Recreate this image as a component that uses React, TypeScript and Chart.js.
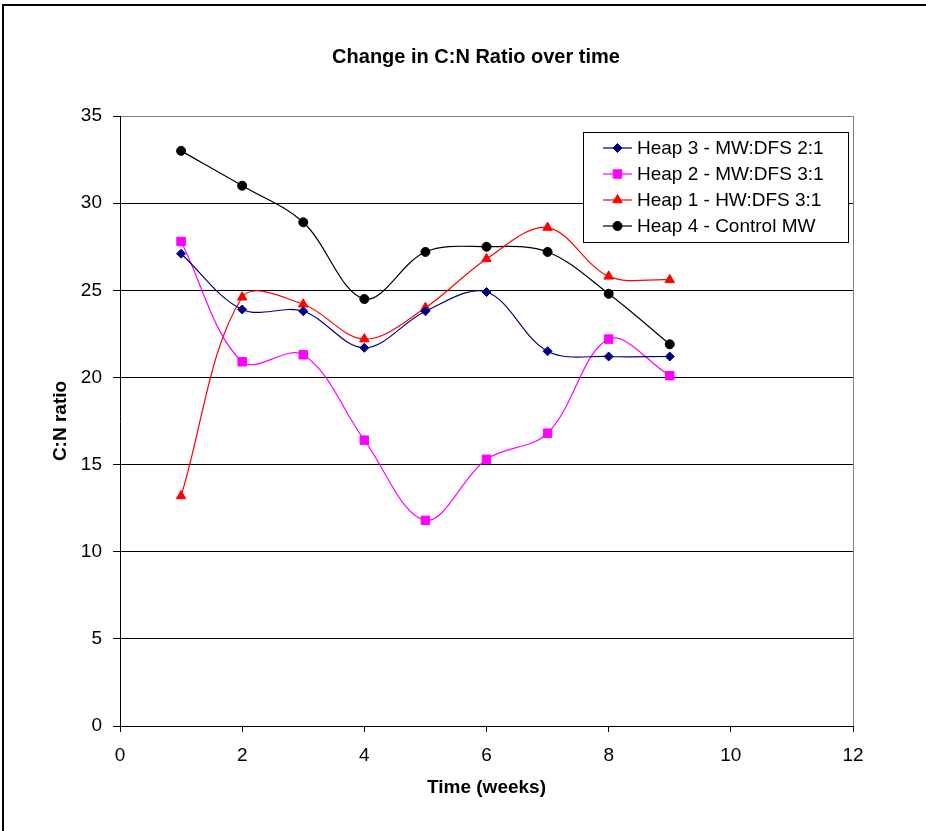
import React, { useEffect, useRef } from 'react';
import { Chart, registerables } from 'chart.js';

Chart.register(...registerables);

// ---- Data ----
const weeks = [1, 2, 3, 4, 5, 6, 7, 8, 9];
const heap3 = [27.1, 23.9, 23.8, 21.7, 23.8, 24.9, 21.5, 21.2, 21.2];
const heap2 = [27.8, 20.9, 21.3, 16.4, 11.8, 15.3, 16.8, 22.2, 20.1];
const heap1 = [13.2, 24.6, 24.2, 22.2, 24.0, 26.8, 28.6, 25.8, 25.6];
const heap4 = [33.0, 31.0, 28.9, 24.5, 27.2, 27.5, 27.2, 24.8, 21.9];
const seriesLabels = ['Heap 3 - MW:DFS 2:1', 'Heap 2 - MW:DFS 3:1', 'Heap 1 - HW:DFS 3:1', 'Heap 4 - Control MW'];
const seriesColors = ['#000080', '#FF00FF', '#FF0000', '#000000'];
const seriesStyles = ['rectRot', 'rect', 'triangle', 'circle'];
const seriesRadius = [4.5, 6, 5.5, 4.5];
const titleText = 'Change in C:N Ratio over time';
const xTitle = 'Time (weeks)';
const yTitle = 'C:N ratio';
const xMin = 0, xMax = 12, xStep = 2;
const yMin = 0, yMax = 35, yStep = 5;

const FONT = "'Liberation Sans', Arial, sans-serif";

function drawMarker(ctx: CanvasRenderingContext2D, style: string, x: number, y: number, r: number, color: string) {
  ctx.save();
  ctx.fillStyle = color;
  ctx.strokeStyle = color;
  ctx.lineWidth = 1;
  ctx.beginPath();
  if (style === 'rectRot') {
    ctx.moveTo(x - r, y); ctx.lineTo(x, y - r); ctx.lineTo(x + r, y); ctx.lineTo(x, y + r); ctx.closePath();
  } else if (style === 'rect') {
    const s = Math.SQRT1_2 * r;
    ctx.rect(x - s, y - s, 2 * s, 2 * s);
  } else if (style === 'triangle') {
    const rad = 0;
    ctx.moveTo(x + Math.sin(rad) * r, y - Math.cos(rad) * r);
    ctx.lineTo(x + Math.sin(rad + 2 * Math.PI / 3) * r, y - Math.cos(rad + 2 * Math.PI / 3) * r);
    ctx.lineTo(x + Math.sin(rad - 2 * Math.PI / 3) * r, y - Math.cos(rad - 2 * Math.PI / 3) * r);
    ctx.closePath();
  } else {
    ctx.arc(x, y, r, 0, Math.PI * 2);
  }
  ctx.fill();
  ctx.stroke();
  ctx.restore();
}

const decorPlugin = {
  id: 'decor',
  afterDraw(chart: any) {
    const ctx: CanvasRenderingContext2D = chart.ctx;
    const a = chart.chartArea;
    ctx.save();
    // plot area right border (gray)
    ctx.strokeStyle = '#808080';
    ctx.lineWidth = 1;
    ctx.beginPath();
    ctx.moveTo(Math.round(a.right) + 0.5, a.top);
    ctx.lineTo(Math.round(a.right) + 0.5, a.bottom);
    ctx.stroke();

    // outer frame
    ctx.strokeStyle = '#000';
    ctx.lineWidth = 2;
    ctx.strokeRect(3, 5, 2000, 2000);

    // title
    ctx.fillStyle = '#000';
    ctx.font = `bold 20px ${FONT}`;
    ctx.textAlign = 'center';
    ctx.textBaseline = 'middle';
    ctx.fillText(titleText, 476, 57);

    // legend
    const lx = 583.5, ly = 132.5, lw = 265, lh = 110;
    ctx.fillStyle = '#fff';
    ctx.fillRect(lx, ly, lw, lh);
    ctx.strokeStyle = '#000';
    ctx.lineWidth = 1;
    ctx.strokeRect(lx, ly, lw, lh);
    ctx.font = `19px ${FONT}`;
    ctx.textAlign = 'left';
    ctx.textBaseline = 'middle';
    chart.data.datasets.forEach((ds: any, i: number) => {
      const y = 148 + i * 26;
      ctx.strokeStyle = seriesColors[i];
      ctx.lineWidth = 1.2;
      ctx.beginPath();
      ctx.moveTo(603, y);
      ctx.lineTo(632, y);
      ctx.stroke();
      drawMarker(ctx, seriesStyles[i], 617.5, y, seriesRadius[i], seriesColors[i]);
      ctx.fillStyle = '#000';
      ctx.fillText(ds.label, 637, y + 1);
    });
    ctx.restore();
  },
};

export default function App() {
  const ref = useRef<HTMLCanvasElement>(null);
  useEffect(() => {
    const allSeries = [heap3, heap2, heap1, heap4];
    const chart = new Chart(ref.current as HTMLCanvasElement, {
      type: 'scatter',
      data: {
        datasets: allSeries.map((vals, i) => ({
          label: seriesLabels[i],
          data: weeks.map((w, j) => ({ x: w, y: vals[j] })),
          showLine: true,
          tension: 0.35,
          borderColor: seriesColors[i],
          backgroundColor: seriesColors[i],
          borderWidth: 1.2,
          pointStyle: seriesStyles[i] as any,
          pointRadius: seriesRadius[i],
          pointBorderWidth: 1,
          pointBackgroundColor: seriesColors[i],
          pointBorderColor: seriesColors[i],
        })),
      },
      options: {
        animation: false,
        responsive: false,
        devicePixelRatio: 1,
        layout: { padding: { left: 0, right: 73, top: 116, bottom: 0 } },
        plugins: {
          legend: { display: false },
          title: { display: false },
          tooltip: { enabled: false },
        },
        scales: {
          x: {
            type: 'linear',
            min: xMin,
            max: xMax,
            ticks: { stepSize: xStep, color: '#000', font: { family: FONT, size: 19 }, padding: 12 },
            grid: { drawOnChartArea: false, drawTicks: true, tickLength: 6, tickColor: '#000', color: '#000' },
            border: { display: true, color: '#000', width: 1 },
            title: { display: true, text: xTitle, color: '#000', font: { family: FONT, size: 19, weight: 'bold' }, padding: { top: 0, bottom: 32 } },
            afterFit: (scale: any) => { scale.height = 105; },
          },
          y: {
            type: 'linear',
            min: yMin,
            max: yMax,
            ticks: { stepSize: yStep, color: '#000', font: { family: FONT, size: 19 }, padding: 11 },
            grid: {
              drawOnChartArea: true,
              drawTicks: true,
              tickLength: 7,
              tickColor: '#000',
              color: (c: any) => (c.tick && c.tick.value === yMax ? '#808080' : '#000'),
              lineWidth: 1,
            },
            border: { display: true, color: '#000', width: 1 },
            title: { display: true, text: yTitle, color: '#000', font: { family: FONT, size: 19, weight: 'bold' }, padding: { top: 49, bottom: 0 } },
            afterFit: (scale: any) => { scale.width = 120; },
          },
        },
      },
      plugins: [decorPlugin],
    } as any);
    return () => chart.destroy();
  }, []);
  return (
    <div style={{ position: 'absolute', left: 0, top: 0, width: 926, height: 831, background: '#fff' }}>
      <canvas ref={ref} width={926} height={831} style={{ display: 'block', width: 926, height: 831 }} />
    </div>
  );
}
